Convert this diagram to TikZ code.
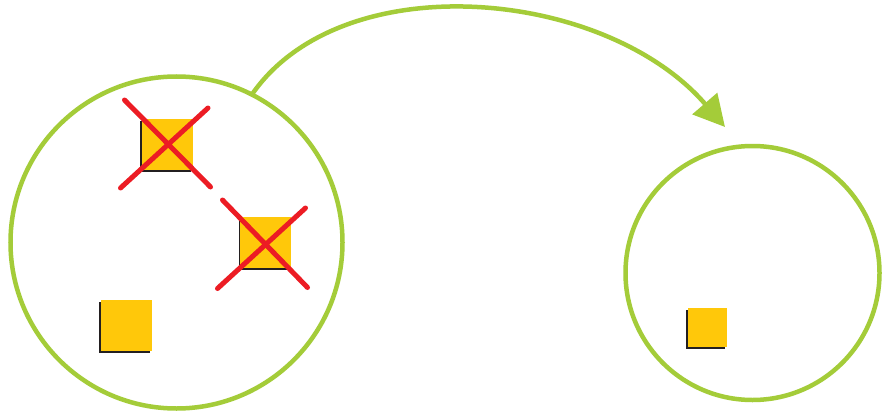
\documentclass[tikz,border=0pt]{standalone}
\usetikzlibrary{arrows.meta}
\definecolor{lgreen}{HTML}{A4CC39}
\definecolor{xred}{HTML}{EC1C24}
\definecolor{byellow}{HTML}{FFC80A}
\definecolor{sblack}{HTML}{231F20}
\tikzset{
  ring/.style={circle, draw=lgreen, line width=4.5pt, inner sep=0pt, outer sep=0pt},
  boxfill/.style={rectangle, fill=byellow, inner sep=0pt, outer sep=0pt},
  boxshade/.style={rectangle, fill=sblack, inner sep=0pt, outer sep=0pt},
  xline/.style={draw=xred, line width=5pt, line cap=round},
  flow/.style={draw=lgreen, line width=4.5pt, -{Triangle[length=31pt,width=32pt]}}
}
\begin{document}
\begin{tikzpicture}[x=1pt,y=-1pt]
\useasboundingbox (0,0) rectangle (886,412);
\fill[white] (0,0) rectangle (886,412);
% circles
\node[ring, minimum size=332pt] (L) at (176.5,242.5) {};
\node[ring, minimum size=254pt] (R) at (752.5,273) {};
% squares (shadow + fill)
\node[boxshade, minimum size=51pt] (s1s) at (165,146.5) {};
\node[boxfill, minimum size=51pt] (s1) at (167.5,144) {};
\node[boxshade, minimum size=51pt] (s2s) at (264,244.5) {};
\node[boxfill, minimum size=51pt] (s2) at (265.5,242.5) {};
\node[boxshade, minimum size=51pt] (s3s) at (124.5,327) {};
\node[boxfill, minimum size=51pt] (s3) at (126.5,325) {};
\node[boxshade, minimum size=39pt] (s4s) at (705.5,329.5) {};
\node[boxfill, minimum size=39pt] (s4) at (707.5,327.5) {};
% crosses
\draw[xline] (124.5,100) -- (210.5,187);
\draw[xline] (208,108) -- (120.5,188);
\draw[xline] (222.5,200) -- (307.5,287.5);
\draw[xline] (305.5,208) -- (217.5,288.5);
% arrow
\draw[flow] (L.63.8) .. controls (342,-36) and (605,-12) .. (725,127);
\end{tikzpicture}
\end{document}
